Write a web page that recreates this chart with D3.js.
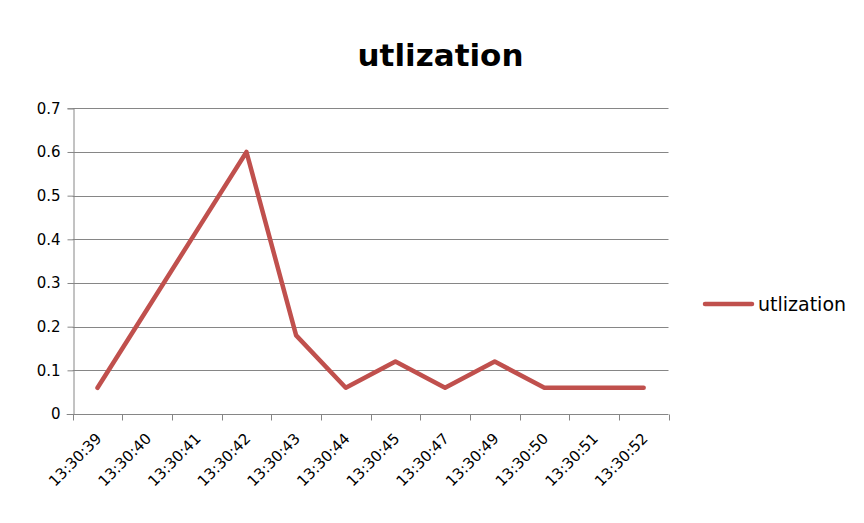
<!DOCTYPE html>
<html>
<head>
<meta charset="utf-8">
<script src="https://cdn.jsdelivr.net/npm/d3@7"></script>
<style>
  html, body { margin: 0; padding: 0; background: #fff; }
  svg { display: block; font-family: "DejaVu Sans", sans-serif; }
</style>
</head>
<body>
<svg id="chart" width="864" height="523"></svg>
<script>
// Sample times and measured utilization
const times = ["13:30:39", "13:30:40", "13:30:41", "13:30:42", "13:30:43", "13:30:44",
               "13:30:45", "13:30:47", "13:30:49", "13:30:50", "13:30:51", "13:30:52"];
const utilization = [0.06, 0.24, 0.42, 0.6, 0.18, 0.06, 0.12, 0.06, 0.12, 0.06, 0.06, 0.06];
const yTicks = [0, 0.1, 0.2, 0.3, 0.4, 0.5, 0.6, 0.7];
const seriesName = "utlization";
const chartTitle = "utlization";

const svg = d3.select("#chart");
const plot = { left: 72.7, right: 668.5, top: 108.3, bottom: 414 };
const lineColor = "#C0504D";
const gridColor = "#868686";

const x = d3.scaleBand().domain(times).range([plot.left, plot.right]);
const y = d3.scaleLinear().domain([0, 0.7]).range([plot.bottom, plot.top]);

// Horizontal gridlines
svg.append("g")
  .selectAll("line")
  .data(yTicks.filter(d => d > 0))
  .join("line")
  .attr("x1", plot.left).attr("x2", plot.right)
  .attr("y1", d => Math.round(y(d)) + 0.5).attr("y2", d => Math.round(y(d)) + 0.5)
  .attr("stroke", gridColor).attr("stroke-width", 1);

// Y axis
const yAxis = svg.append("g")
  .attr("transform", `translate(${Math.round(plot.left) + 0.5},0)`)
  .call(d3.axisLeft(y).tickValues(yTicks).tickSize(6).tickPadding(7)
    .tickFormat(d => d === 0 ? "0" : d3.format(".1f")(d)));
yAxis.select(".domain").attr("stroke", gridColor);
yAxis.selectAll(".tick line").attr("stroke", gridColor);
yAxis.selectAll(".tick text").attr("font-size", 15).attr("fill", "#000")
  .attr("font-family", "'DejaVu Sans', sans-serif");

// X axis with ticks at category boundaries
const xAxisG = svg.append("g")
  .attr("transform", `translate(0,${Math.round(plot.bottom) + 0.5})`);
xAxisG.append("line")
  .attr("x1", plot.left - 6).attr("x2", plot.right)
  .attr("stroke", gridColor);
const boundaries = times.map(t => x(t)).concat([x(times[times.length - 1]) + x.bandwidth()]);
xAxisG.selectAll("line.tk")
  .data(boundaries)
  .join("line")
  .attr("class", "tk")
  .attr("x1", d => Math.round(d) + 0.5).attr("x2", d => Math.round(d) + 0.5)
  .attr("y1", 0).attr("y2", 6)
  .attr("stroke", gridColor);
xAxisG.selectAll("text")
  .data(times)
  .join("text")
  .attr("transform", t => `translate(${x(t) + x.bandwidth() / 2 + 5},${25}) rotate(-45)`)
  .attr("text-anchor", "end")
  .attr("font-size", 15)
  .attr("fill", "#000")
  .text(t => t);

// Series line
const line = d3.line()
  .x((d, i) => x(times[i]) + x.bandwidth() / 2)
  .y(d => y(d));
svg.append("path")
  .datum(utilization)
  .attr("d", line)
  .attr("fill", "none")
  .attr("stroke", lineColor)
  .attr("stroke-width", 4.5)
  .attr("stroke-linejoin", "round")
  .attr("stroke-linecap", "round");

// Title
svg.append("text")
  .attr("x", 440.5).attr("y", 66)
  .attr("text-anchor", "middle")
  .attr("font-size", 31)
  .attr("font-weight", "bold")
  .attr("fill", "#000")
  .text(chartTitle);

// Legend
const legend = svg.append("g").attr("transform", "translate(705,304)");
legend.append("line")
  .attr("x1", 0).attr("x2", 47)
  .attr("stroke", lineColor).attr("stroke-width", 4.5)
  .attr("stroke-linecap", "round");
legend.append("text")
  .attr("x", 53).attr("y", 7)
  .attr("font-size", 19)
  .attr("fill", "#000")
  .text(seriesName);
</script>
</body>
</html>
